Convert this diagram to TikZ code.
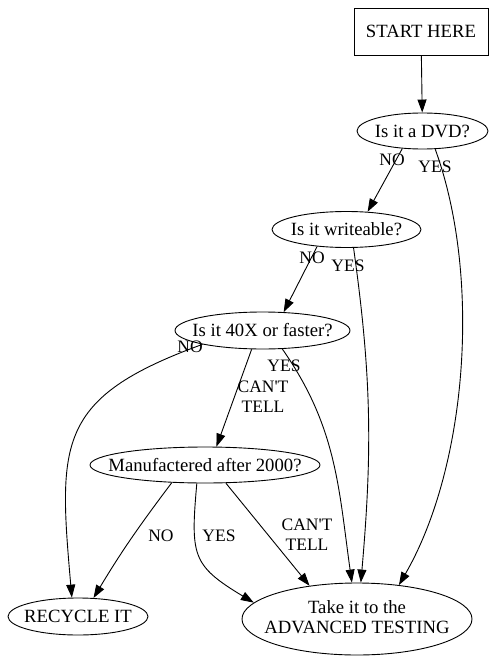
\documentclass[tikz,border=0pt]{standalone}
\usepackage{fontspec}
\setmainfont{Liberation Serif}
\usetikzlibrary{shapes.geometric}
\usetikzlibrary{arrows.meta}

\newcommand{\keepwide}[1]{\makebox[0pt]{#1}}

\begin{document}
\begin{tikzpicture}[x=1pt,y=1pt,
    font=\fontsize{18.7}{20}\selectfont,
    question/.style={draw,ellipse,inner sep=0pt,minimum height=36pt},
    link/.style={line width=0.9pt,-{Triangle[length=13pt,width=9pt]}},
    answer/.style={inner sep=0pt,align=center,font=\fontsize{17.5}{20}\selectfont}]
    \useasboundingbox (0,0) rectangle (495,-666);
    % boxes of the chart
    \node[draw,line width=0.9pt,minimum width=134pt,minimum height=47pt] (start) at (421,-31.5) {START HERE};
    \node[question,line width=0.9pt,minimum width=131pt] (dvd) at (422.5,-131) {\keepwide{Is it a DVD?}};
    \node[question,line width=0.9pt,minimum width=149pt] (write) at (346.5,-229.5) {\keepwide{Is it writeable?}};
    \node[question,line width=0.9pt,minimum width=175pt,minimum height=37pt] (fast) at (262.5,-330.5) {\keepwide{Is it 40X or faster?}};
    \node[question,line width=0.9pt,minimum width=230pt] (made) at (205,-465) {\keepwide{Manufactered after 2000?}};
    \node[question,line width=0.9pt,minimum width=140pt,minimum height=37pt] (recycle) at (78,-616.5) {\keepwide{RECYCLE IT}};
    \node[question,line width=0.9pt,minimum width=230pt,minimum height=72pt] (advanced) at (357,-619)
        {\keepwide{\begin{tabular}{@{}c@{}}Take it to the\\ADVANCED TESTING\end{tabular}}};

    % connectors
    \draw[link] (start) -- (dvd);
    \draw[link] (dvd.-139) -- (write.40);
    \draw[link] (dvd.-55) to[out=-70,in=60,looseness=0.8] (advanced.39);
    \draw[link] (write.-150) -- (fast.41);
    \draw[link] (write.-69) to[out=-82,in=85] (advanced.84);
    \draw[link] (fast.-167) to[out=-160,in=95,looseness=1.4] (recycle.108);
    \draw[link] (fast.-120) -- (made.58);
    \draw[link] (fast.-43) to[out=-55,in=98] (advanced.98);
    \draw[link] (made.-152) to[out=-127,in=59] (recycle.50);
    \draw[link] (made.-114) to[out=-95,in=149,looseness=1.4] (advanced.171);
    \draw[link] (made.-41.5) -- (advanced.145);

    % answers on the connectors
    \node[answer] (dvdno) at (392,-160) {NO};
    \node[answer] (dvdyes) at (435,-167) {YES};
    \node[answer] (writeno) at (312,-258) {NO};
    \node[answer] (writeyes) at (348,-266) {YES};
    \node[answer] (fastno) at (190,-347) {NO};
    \node[answer] (fastyes) at (284,-366) {YES};
    \node[answer] (fastcant) at (263,-397) {CAN\textquotesingle T\\TELL};
    \node[answer] (madeno) at (161,-536) {NO};
    \node[answer] (madeyes) at (219,-536) {YES};
    \node[answer] (madecant) at (307,-535) {CAN\textquotesingle T\\TELL};
\end{tikzpicture}
\end{document}
